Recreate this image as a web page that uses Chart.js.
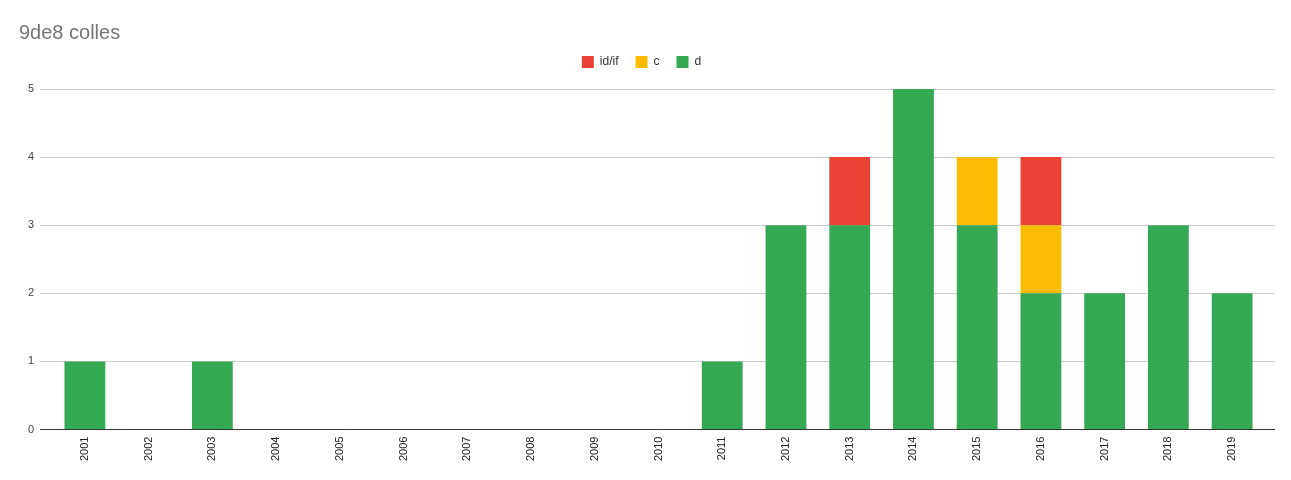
<!DOCTYPE html>
<html>
<head>
<meta charset="utf-8">
<script src="https://cdn.jsdelivr.net/npm/chart.js@4/dist/chart.umd.min.js"></script>
<style>
  html, body { margin: 0; padding: 0; background: #fff; }
  #wrap { position: relative; width: 1291px; height: 480px; }
</style>
</head>
<body>
<div id="wrap"><canvas id="chart"></canvas></div>
<script>
  const years = ["2001", "2002", "2003", "2004", "2005", "2006", "2007", "2008", "2009", "2010",
    "2011", "2012", "2013", "2014", "2015", "2016", "2017", "2018", "2019"];
  const dValues = [1, 0, 1, 0, 0, 0, 0, 0, 0, 0, 1, 3, 3, 5, 3, 2, 2, 3, 2];
  const cValues = [0, 0, 0, 0, 0, 0, 0, 0, 0, 0, 0, 0, 0, 0, 1, 1, 0, 0, 0];
  const idValues = [0, 0, 0, 0, 0, 0, 0, 0, 0, 0, 0, 0, 1, 0, 0, 1, 0, 0, 0];
  const yTicks = [0, 1, 2, 3, 4, 5];

  const font = "Arial, 'Liberation Sans', sans-serif";

  // gridlines run wider than the bar area, like the original
  const gridPlugin = {
    id: "wideGrid",
    beforeDatasetsDraw(chart) {
      const ctx = chart.ctx;
      const y = chart.scales.y;
      ctx.save();
      ctx.strokeStyle = "#cccccc";
      ctx.lineWidth = 1;
      yTicks.forEach((v) => {
        if (v === 0) return;
        const py = Math.round(y.getPixelForValue(v)) + 0.5;
        ctx.beginPath();
        ctx.moveTo(40, py);
        ctx.lineTo(1275, py);
        ctx.stroke();
      });
      ctx.restore();
    },
    afterDatasetsDraw(chart) {
      const ctx = chart.ctx;
      const py = chart.scales.y.getPixelForValue(0);
      ctx.save();
      ctx.strokeStyle = "#333";
      ctx.lineWidth = 1;
      ctx.beginPath();
      ctx.moveTo(40, py);
      ctx.lineTo(1275, py);
      ctx.stroke();
      ctx.restore();
    },
  };

  // a little more room under the legend
  const legendGap = {
    id: "legendGap",
    beforeLayout(chart) {
      const legend = chart.legend;
      if (legend && !legend._gapPatched) {
        const legendFit = legend.fit;
        legend.fit = function () {
          legendFit.call(legend);
          legend.height += 11;
        };
        legend._gapPatched = true;
      }
    },
  };

  new Chart(document.getElementById("chart"), {
    type: "bar",
    data: {
      labels: years,
      datasets: [
        { label: "d", data: dValues, backgroundColor: "#34a853" },
        { label: "c", data: cValues, backgroundColor: "#fbbc04" },
        { label: "id/if", data: idValues, backgroundColor: "#ea4335" },
      ],
    },
    options: {
      responsive: true,
      maintainAspectRatio: false,
      animation: false,
      layout: { padding: { left: 19, right: 27, top: 0, bottom: 12 } },
      datasets: { bar: { categoryPercentage: 0.64, barPercentage: 1 } },
      plugins: {
        title: {
          display: true,
          text: "9de8 colles",
          align: "start",
          color: "#757575",
          font: { family: font, size: 20, weight: "normal", lineHeight: 0.6 },
          padding: { top: 27, bottom: 0 },
        },
        legend: {
          display: true,
          reverse: true,
          labels: {
            boxWidth: 12,
            boxHeight: 12,
            padding: 17,
            color: "#333",
            font: { family: font, size: 12 },
          },
        },
        tooltip: { enabled: false },
      },
      scales: {
        x: {
          stacked: true,
          grid: { display: false, drawTicks: false },
          border: { display: false },
          ticks: {
            color: "#222",
            font: { family: font, size: 11 },
            minRotation: 90,
            maxRotation: 90,
            autoSkip: false,
            padding: 7,
          },
        },
        y: {
          stacked: true,
          min: 0,
          max: 5,
          afterFit: (scale) => { scale.width = 34; },
          afterBuildTicks: (scale) => { scale.ticks = yTicks.map((v) => ({ value: v })); },
          grid: { display: false, drawTicks: false },
          border: { display: false },
          ticks: {
            color: "#444",
            font: { family: font, size: 11 },
            padding: 19,
          },
        },
      },
    },
    plugins: [gridPlugin, legendGap],
  });
</script>
</body>
</html>
